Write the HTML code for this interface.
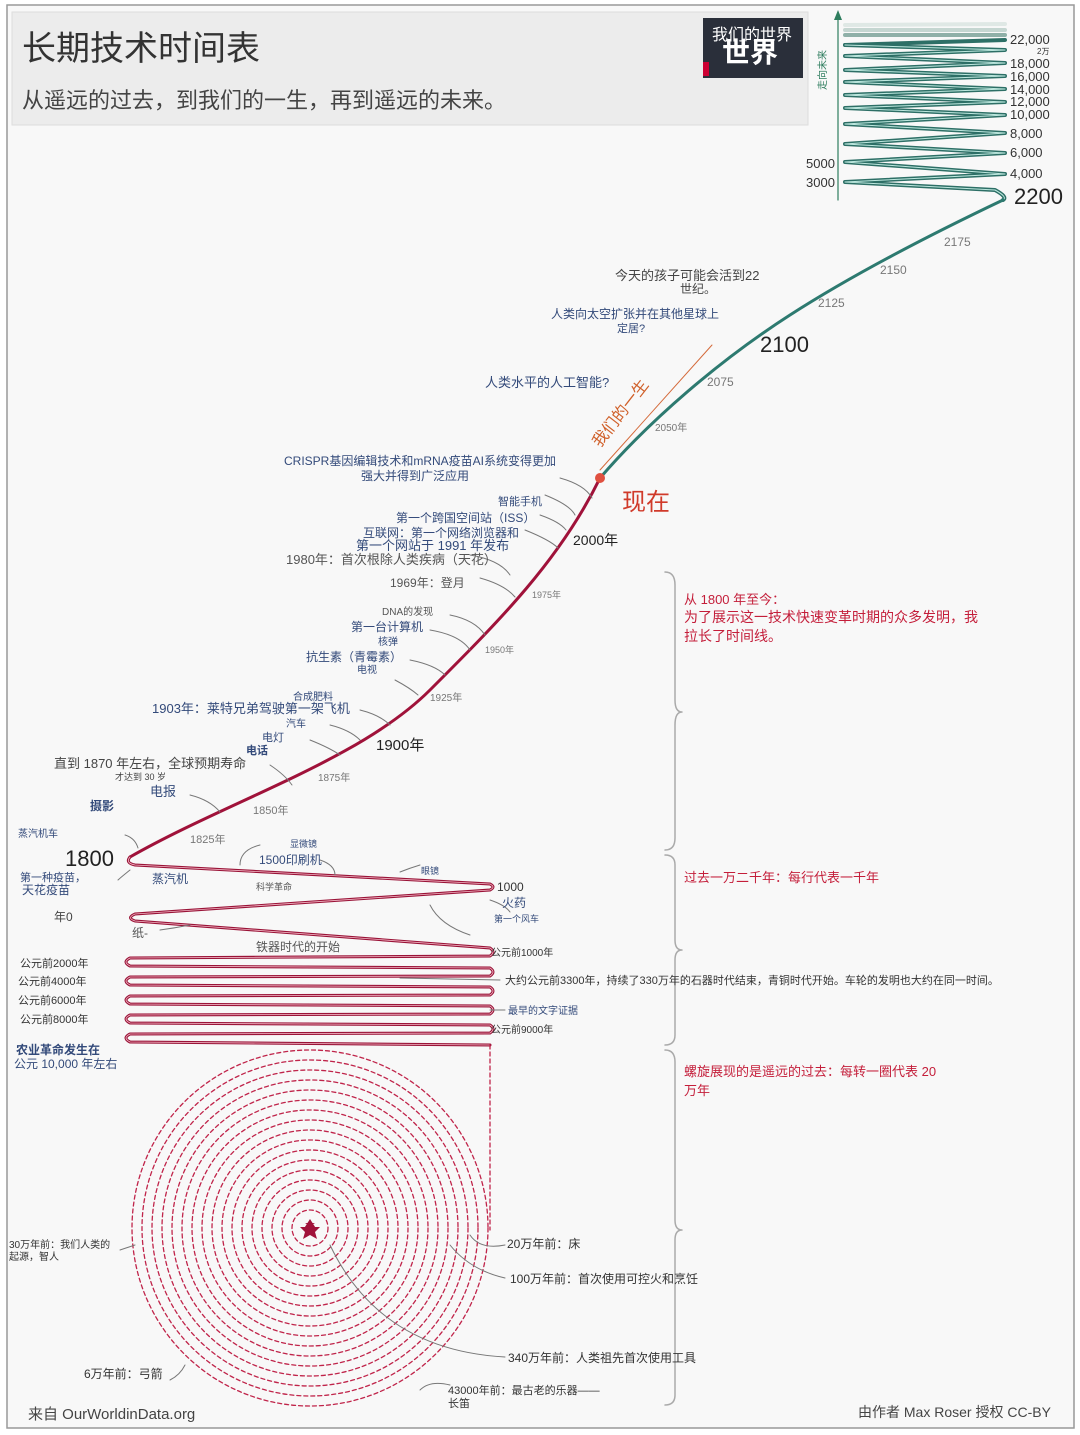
<!DOCTYPE html>
<html><head><meta charset="utf-8"><style>
html,body{margin:0;padding:0;background:#fff;}
svg{display:block;}
text{font-family:"Liberation Sans","Noto Sans CJK SC",sans-serif;}
</style></head><body>
<svg width="1080" height="1435" viewBox="0 0 1080 1435" xmlns="http://www.w3.org/2000/svg">
<rect x="0" y="0" width="1080" height="1435" fill="#fff"/>
<rect x="7" y="5" width="1067" height="1423" fill="#f8f8f8" stroke="#999" stroke-width="1.5"/>
<rect x="12" y="12" width="796" height="113" fill="#ececec" stroke="#ddd"/>
<text x="22" y="60" font-size="34" fill="#333">长期技术时间表</text>
<text x="22" y="108" font-size="22" fill="#444">从遥远的过去，到我们的一生，再到遥远的未来。</text>
<rect x="703" y="18" width="100" height="60" fill="#2a2f3a"/>
<rect x="703" y="62" width="6" height="14" fill="#c03"/>
<text x="712" y="40" font-size="16" fill="#fff">我们的世界</text>
<text x="722" y="62" font-size="28" font-weight="bold" fill="#fff">世界</text>

<!-- future zigzag -->
<g fill="none" stroke-linecap="round" stroke-linejoin="round">
<line x1="838" y1="200" x2="838" y2="14" stroke="#2e7d5e" stroke-width="1.2"/>
<polygon points="834,20 838,10 842,20" fill="#2e7d5e" stroke="none"/>
<line x1="845" y1="25" x2="1005" y2="24" stroke="#dfe8e5" stroke-width="4"/>
<line x1="845" y1="30" x2="1005" y2="30" stroke="#c5d6d1" stroke-width="4"/>
<line x1="845" y1="35" x2="1005" y2="35" stroke="#8fb0a8" stroke-width="4"/>
<path d="M845,45 L1005,40 M845,45" stroke="#2d6f66" stroke-width="4"/>
<path d="M845,45 L1005,50 L845,56 L1005,63 L845,70 L1005,76 L845,82 L1005,89 L845,95 L1005,102 L845,108 L1005,115 L845,124 L1005,133 L845,144 L1005,153 L845,162 L1005,174 L845,182 L995,190 Q1008,197 1003,200" stroke="#2d6f66" stroke-width="4"/>
<path d="M845,45 L1005,50 L845,56 L1005,63 L845,70 L1005,76 L845,82 L1005,89 L845,95 L1005,102 L845,108 L1005,115 L845,124 L1005,133 L845,144 L1005,153 L845,162 L1005,174 L845,182 L995,190 Q1008,197 1003,200" stroke="#bfe9e0" stroke-width="1"/>
<!-- green curve -->
<path d="M1003,200 C940,230 860,270 790,315 C720,360 650,420 600,478" stroke="#2d7a70" stroke-width="3"/>
<!-- red curve -->
<path d="M600,478 C560,560 500,620 430,690 C360,760 230,800 130,857" stroke="#a0123a" stroke-width="3"/>
<!-- red zigzag -->
<path d="M130,857 Q125,863 135,865 L490,884 Q496,887 490,890 L135,914 Q126,918 135,921 L490,948 Q496,952 490,956 L130,958 Q122,962 130,966 L490,968 Q496,972 490,976 L130,977 Q122,981 130,985 L490,987 Q496,991 490,995 L130,996 Q122,1000 130,1004 L490,1006 Q496,1010 490,1014 L130,1015 Q122,1019 130,1023 L490,1025 Q496,1029 490,1033 L130,1034 Q122,1038 130,1042 L490,1045" stroke="#9a1438" stroke-width="3"/>
<path d="M130,857 Q125,863 135,865 L490,884 Q496,887 490,890 L135,914 Q126,918 135,921 L490,948 Q496,952 490,956 L130,958 Q122,962 130,966 L490,968 Q496,972 490,976 L130,977 Q122,981 130,985 L490,987 Q496,991 490,995 L130,996 Q122,1000 130,1004 L490,1006 Q496,1010 490,1014 L130,1015 Q122,1019 130,1023 L490,1025 Q496,1029 490,1033 L130,1034 Q122,1038 130,1042 L490,1045" stroke="#f2b8c6" stroke-width="0.8"/>
<line x1="490" y1="1045" x2="490" y2="1230" stroke="#c0244a" stroke-width="1.3" stroke-dasharray="4,3"/>
<g stroke="#c0244a" stroke-width="1.3" stroke-dasharray="4,3">
<circle cx="310" cy="1228" r="178"/><circle cx="310" cy="1228" r="168"/><circle cx="310" cy="1228" r="158"/><circle cx="310" cy="1228" r="148"/><circle cx="310" cy="1228" r="138"/><circle cx="310" cy="1228" r="128"/><circle cx="310" cy="1228" r="118"/><circle cx="310" cy="1228" r="108"/><circle cx="310" cy="1228" r="98"/><circle cx="310" cy="1228" r="88"/><circle cx="310" cy="1228" r="78"/><circle cx="310" cy="1228" r="68"/><circle cx="310" cy="1228" r="58"/><circle cx="310" cy="1228" r="48"/><circle cx="310" cy="1228" r="38"/><circle cx="310" cy="1228" r="28"/><circle cx="310" cy="1228" r="18"/>
</g>
<!-- braces -->
<path d="M665,572 Q675,572 675,585 L675,700 Q675,712 682,712 Q675,712 675,725 L675,838 Q675,850 665,850" stroke="#aaa" stroke-width="1.5"/>
<path d="M665,855 Q675,855 675,865 L675,940 Q675,950 682,950 Q675,950 675,960 L675,1035 Q675,1045 665,1045" stroke="#aaa" stroke-width="1.5"/>
<path d="M665,1050 Q675,1050 675,1062 L675,1220 Q675,1230 682,1230 Q675,1230 675,1240 L675,1395 Q675,1405 665,1405" stroke="#aaa" stroke-width="1.5"/>
<!-- arrows orange -->
<path d="M600,470 L712,345" stroke="#d46a3a" stroke-width="1"/>
<g stroke="#777" stroke-width="1">
<path d="M560,478 Q585,485 592,498"/><path d="M545,495 Q570,505 575,515"/><path d="M540,515 Q560,522 566,530"/><path d="M525,530 Q550,540 558,548"/><path d="M470,555 Q500,560 510,575"/><path d="M480,578 Q505,585 515,597"/><path d="M450,615 Q475,620 485,635"/><path d="M430,630 Q460,635 470,650"/><path d="M410,660 Q435,665 445,675"/><path d="M395,680 Q410,688 418,695"/><path d="M360,710 Q380,715 390,725"/><path d="M330,725 Q350,730 360,740"/><path d="M310,740 Q330,748 340,755"/><path d="M270,765 Q285,775 292,785"/><path d="M190,795 Q210,800 220,812"/><path d="M125,835 Q135,838 138,848"/><path d="M260,845 Q240,850 240,865"/><path d="M320,860 Q335,865 335,875"/><path d="M420,865 Q410,868 400,872"/><path d="M490,900 Q505,905 510,912"/><path d="M470,935 Q440,925 430,905"/><path d="M130,870 Q120,878 118,880"/><path d="M160,930 Q175,928 190,925"/><path d="M500,980 L400,978"/><path d="M505,1010 L490,1010"/><path d="M505,1245 Q480,1250 470,1235"/><path d="M505,1278 Q470,1270 450,1245"/><path d="M505,1357 Q380,1350 330,1245"/><path d="M450,1385 Q430,1380 420,1390"/><path d="M170,1380 Q180,1375 185,1365"/><path d="M120,1250 L135,1245"/>
</g>
</g>
<circle cx="600" cy="478" r="5" fill="#e05040"/>
<polygon points="303,1230 310,1219 317,1230 305,1223 315,1223" fill="#a0123a"/>
<path d="M310,1220 l3,7 7,0 -5,5 2,7 -7,-4 -7,4 2,-7 -5,-5 7,0z" fill="#a0123a"/>

<g font-size="13" fill="#333">
<text x="1010" y="44">22,000</text><text x="1037" y="54" font-size="8">2万</text>
<text x="1010" y="68">18,000</text><text x="1010" y="81">16,000</text><text x="1010" y="94">14,000</text><text x="1010" y="106">12,000</text><text x="1010" y="119">10,000</text>
<text x="1010" y="138">8,000</text><text x="1010" y="157">6,000</text><text x="1010" y="178">4,000</text>
<text x="806" y="168">5000</text><text x="806" y="187">3000</text>
</g>
<text x="1014" y="204" font-size="22" fill="#222">2200</text>
<text x="826" y="90" font-size="10" fill="#2e7d5e" transform="rotate(-90 826 90)">走向未来</text>
<g font-size="12" fill="#777"><text x="944" y="246">2175</text><text x="880" y="274">2150</text><text x="818" y="307">2125</text><text x="707" y="386">2075</text><text x="655" y="431" font-size="10">2050年</text>
<text x="532" y="598" font-size="9">1975年</text><text x="485" y="653" font-size="9">1950年</text><text x="430" y="701" font-size="10">1925年</text><text x="318" y="781" font-size="10">1875年</text><text x="253" y="814" font-size="11">1850年</text><text x="190" y="843" font-size="11">1825年</text></g>
<text x="760" y="352" font-size="22" fill="#222">2100</text>
<text x="615" y="280" font-size="13" fill="#444">今天的孩子可能会活到22</text><text x="680" y="293" font-size="12" fill="#444">世纪。</text>
<text x="551" y="318" font-size="12" fill="#334a7a">人类向太空扩张并在其他星球上</text><text x="617" y="332" font-size="11" fill="#334a7a">定居?</text>
<text x="485" y="387" font-size="13" fill="#334a7a">人类水平的人工智能?</text>
<text x="600" y="448" font-size="16" fill="#d0602a" transform="rotate(-52 600 448)">我们的一生</text>
<text x="622" y="510" font-size="24" fill="#d03a2a">现在</text>
<text x="573" y="545" font-size="14" fill="#222">2000年</text>
<text x="376" y="750" font-size="15" fill="#222">1900年</text>
<text x="65" y="866" font-size="22" fill="#222">1800</text>
<g font-size="12" fill="#334a7a">
<text x="284" y="465">CRISPR基因编辑技术和mRNA疫苗AI系统变得更加</text><text x="361" y="480">强大并得到广泛应用</text>
<text x="498" y="505" font-size="11">智能手机</text>
<text x="396" y="522">第一个跨国空间站（ISS）</text>
<text x="363" y="537">互联网：第一个网络浏览器和</text>
<text x="356" y="550" font-size="13">第一个网站于 1991 年发布</text>
<text x="286" y="564" font-size="13" fill="#555">1980年：首次根除人类疾病（天花）</text>
<text x="390" y="587" fill="#555">1969年：登月</text>
<text x="382" y="615" font-size="10" fill="#555">DNA的发现</text>
<text x="351" y="631">第一台计算机</text><text x="378" y="645" font-size="10">核弹</text>
<text x="306" y="661">抗生素（青霉素）</text><text x="357" y="673" font-size="10">电视</text>
<text x="293" y="700" font-size="10">合成肥料</text>
<text x="152" y="713" font-size="13">1903年：莱特兄弟驾驶第一架飞机</text>
<text x="286" y="727" font-size="10">汽车</text><text x="262" y="741" font-size="11">电灯</text><text x="246" y="754" font-weight="bold" font-size="11">电话</text>
<text x="54" y="768" font-size="13" fill="#444">直到 1870 年左右，全球预期寿命</text><text x="115" y="780" font-size="9" fill="#444">才达到 30 岁</text>
<text x="150" y="796" font-size="13">电报</text><text x="90" y="810" font-weight="bold">摄影</text>
<text x="18" y="837" font-size="10">蒸汽机车</text>
<text x="290" y="847" font-size="9">显微镜</text><text x="259" y="864">1500印刷机</text>
<text x="421" y="874" font-size="9">眼镜</text><text x="256" y="890" font-size="9" fill="#555">科学革命</text>
<text x="152" y="883">蒸汽机</text><text x="20" y="881" font-size="11">第一种疫苗，</text><text x="22" y="894">天花疫苗</text>
<text x="497" y="891" font-size="12" fill="#333">1000</text><text x="502" y="907">火药</text><text x="494" y="922" font-size="9">第一个风车</text>
<text x="54" y="921" fill="#444">年0</text><text x="132" y="937" fill="#555">纸-</text>
<text x="256" y="951" fill="#555">铁器时代的开始</text>
<text x="491" y="956" font-size="10" fill="#333">公元前1000年</text>
<text x="20" y="967" font-size="11" fill="#333">公元前2000年</text><text x="18" y="985" font-size="11" fill="#333">公元前4000年</text><text x="18" y="1004" font-size="11" fill="#333">公元前6000年</text><text x="20" y="1023" font-size="11" fill="#333">公元前8000年</text>
<text x="505" y="984" font-size="11" fill="#333">大约公元前3300年，持续了330万年的石器时代结束，青铜时代开始。车轮的发明也大约在同一时间。</text>
<text x="508" y="1014" font-size="10">最早的文字证据</text>
<text x="491" y="1033" font-size="10" fill="#333">公元前9000年</text>
<text x="16" y="1054" font-weight="bold">农业革命发生在</text><text x="14" y="1068">公元 10,000 年左右</text>
<text x="9" y="1248" font-size="10" fill="#333">30万年前：我们人类的</text><text x="9" y="1260" font-size="10" fill="#333">起源，智人</text>
<text x="507" y="1248" fill="#333">20万年前：床</text>
<text x="510" y="1283" fill="#333">100万年前：首次使用可控火和烹饪</text>
<text x="508" y="1362" fill="#333">340万年前：人类祖先首次使用工具</text>
<text x="448" y="1394" font-size="11" fill="#333">43000年前：最古老的乐器——</text><text x="448" y="1407" font-size="11" fill="#333">长笛</text>
<text x="84" y="1378" fill="#333">6万年前：弓箭</text>
</g>
<g font-size="13" fill="#c41e3a">
<text x="684" y="604">从 1800 年至今：</text>
<text x="684" y="622" font-size="14">为了展示这一技术快速变革时期的众多发明，我</text>
<text x="684" y="641" font-size="14">拉长了时间线。</text>
<text x="684" y="882">过去一万二千年：每行代表一千年</text>
<text x="684" y="1076">螺旋展现的是遥远的过去：每转一圈代表 20</text>
<text x="684" y="1095">万年</text>
</g>
<text x="28" y="1419" font-size="15" fill="#444">来自 OurWorldinData.org</text>
<text x="858" y="1417" font-size="14" fill="#444">由作者 Max Roser 授权 CC-BY</text>
</svg>
</body></html>
